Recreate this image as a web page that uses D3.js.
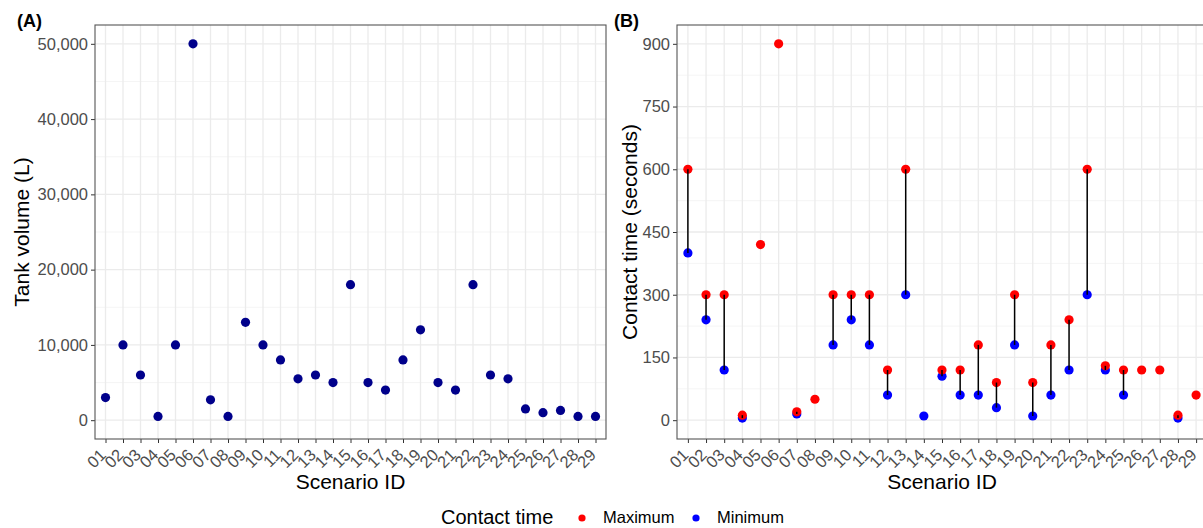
<!DOCTYPE html>
<html>
<head>
<meta charset="utf-8">
<script src="https://cdn.jsdelivr.net/npm/d3@7"></script>
<style>
  body { margin: 0; background: #fff; }
  svg text { font-family: "Liberation Sans", Arial, sans-serif; }
</style>
</head>
<body>
<svg id="chart" width="1203" height="528"></svg>
<script>
// scenario ids shared by both panels
var scenarios = ["01","02","03","04","05","06","07","08","09","10","11","12","13","14","15",
                 "16","17","18","19","20","21","22","23","24","25","26","27","28","29"];

// panel A: tank volume (L)
var tankVolume = [3000, 10000, 6000, 500, 10000, 50000, 2700, 500, 13000, 10000, 8000, 5500, 6000, 5000,
                  18000, 5000, 4000, 8000, 12000, 5000, 4000, 18000, 6000, 5500, 1500, 1000, 1300, 500, 500];

// panel B: contact time (seconds), null = not reported
var contactMax = [600, 300, 300, 12, 420, 900, 20, 50, 300, 300, 300, 120, 600, null,
                  120, 120, 180, 90, 300, 90, 180, 240, 600, 130, 120, 120, 120, 12, 60];
var contactMin = [400, 240, 120, 5, null, null, 15, null, 180, 240, 180, 60, 300, 10,
                  105, 60, 60, 30, 180, 10, 60, 120, 300, 120, 60, null, null, 5, null];

var ticksA = [0, 10000, 20000, 30000, 40000, 50000];
var ticksB = [0, 150, 300, 450, 600, 750, 900];

var svg = d3.select("#chart");

var plotTop = 25, plotBottom = 439;

function drawPanel(opt) {
    var x = d3.scalePoint().domain(scenarios).range([opt.left, opt.right]).padding(0.6);
    var y = d3.scaleLinear().domain(opt.yDomain).range([plotBottom, plotTop]);
    var g = svg.append("g");

    // minor horizontal grid (midpoints between major ticks)
    var step = opt.ticks[1] - opt.ticks[0];
    var minor = [opt.ticks[0] - step / 2];
    opt.ticks.forEach(function (t) { minor.push(t + step / 2); });
    g.selectAll("line.minor").data(minor.filter(function (d) {
        return d > opt.yDomain[0] && d < opt.yDomain[1];
    })).enter().append("line")
        .attr("x1", opt.left).attr("x2", opt.right)
        .attr("y1", function (d) { return y(d); }).attr("y2", function (d) { return y(d); })
        .attr("stroke", "#f2f2f2").attr("stroke-width", 0.8);

    g.selectAll("line.hmajor").data(opt.ticks).enter().append("line")
        .attr("x1", opt.left).attr("x2", opt.right)
        .attr("y1", function (d) { return y(d); }).attr("y2", function (d) { return y(d); })
        .attr("stroke", "#ebebeb").attr("stroke-width", 1.3);

    g.selectAll("line.vmajor").data(scenarios).enter().append("line")
        .attr("x1", function (d) { return x(d); }).attr("x2", function (d) { return x(d); })
        .attr("y1", plotTop).attr("y2", plotBottom)
        .attr("stroke", "#ebebeb").attr("stroke-width", 1.3);

    // axes
    var yAxis = d3.axisLeft(y).tickValues(opt.ticks).tickSize(4).tickPadding(3).tickFormat(opt.fmt);
    var ya = g.append("g").attr("transform", "translate(" + opt.left + ",0)").call(yAxis);
    ya.select(".domain").remove();
    ya.selectAll("line").attr("stroke", "#333");
    ya.selectAll("text").attr("fill", "#4d4d4d").style("font-size", "16.5px");

    var xAxis = d3.axisBottom(x).tickSize(4).tickPadding(0);
    var xa = g.append("g").attr("transform", "translate(0," + plotBottom + ")").call(xAxis);
    xa.select(".domain").remove();
    xa.selectAll("line").attr("stroke", "#333");
    xa.selectAll("text")
        .attr("fill", "#4d4d4d").style("font-size", "16.5px")
        .attr("text-anchor", "end")
        .attr("x", 0).attr("y", 0).attr("dy", "0.35em")
        .attr("transform", "translate(-3,13) rotate(-45)");

    opt.marks(g, x, y);

    // panel border
    g.append("rect")
        .attr("x", opt.left).attr("y", plotTop)
        .attr("width", opt.right - opt.left).attr("height", plotBottom - plotTop)
        .attr("fill", "none").attr("stroke", "#555").attr("stroke-width", 1.1);

    // titles
    g.append("text")
        .attr("x", (opt.left + opt.right) / 2).attr("y", 489)
        .attr("text-anchor", "middle").style("font-size", "21px")
        .text("Scenario ID");
    g.append("text")
        .attr("transform", "translate(" + opt.yTitleX + "," + ((plotTop + plotBottom) / 2) + ") rotate(-90)")
        .attr("text-anchor", "middle").style("font-size", "21px")
        .text(opt.yTitle);
    g.append("text")
        .attr("x", opt.tagX).attr("y", 27)
        .style("font-size", "18px").style("font-weight", "bold")
        .text(opt.tag);
}

drawPanel({
    left: 95, right: 606, yDomain: [-2500, 52500], ticks: ticksA,
    fmt: d3.format(","), yTitle: "Tank volume (L)", yTitleX: 29, tag: "(A)", tagX: 17,
    marks: function (g, x, y) {
        g.selectAll("circle.vol").data(scenarios).enter().append("circle")
            .attr("cx", function (d) { return x(d); })
            .attr("cy", function (d, i) { return y(tankVolume[i]); })
            .attr("r", 4.6).attr("fill", "#00008b");
    }
});

drawPanel({
    left: 677, right: 1207, yDomain: [-45, 945], ticks: ticksB,
    fmt: d3.format("d"), yTitle: "Contact time (seconds)", yTitleX: 637, tag: "(B)", tagX: 614,
    marks: function (g, x, y) {
        var rows = scenarios.map(function (s, i) {
            return { id: s, max: contactMax[i], min: contactMin[i] };
        });
        g.selectAll("circle.min").data(rows.filter(function (d) { return d.min != null; }))
            .enter().append("circle")
            .attr("cx", function (d) { return x(d.id); })
            .attr("cy", function (d) { return y(d.min); })
            .attr("r", 4.6).attr("fill", "#0000ff");
        g.selectAll("circle.max").data(rows.filter(function (d) { return d.max != null; }))
            .enter().append("circle")
            .attr("cx", function (d) { return x(d.id); })
            .attr("cy", function (d) { return y(d.max); })
            .attr("r", 4.6).attr("fill", "#ff0000");
        g.selectAll("line.seg").data(rows.filter(function (d) { return d.max != null && d.min != null; }))
            .enter().append("line")
            .attr("x1", function (d) { return x(d.id); }).attr("x2", function (d) { return x(d.id); })
            .attr("y1", function (d) { return y(d.min); }).attr("y2", function (d) { return y(d.max); })
            .attr("stroke", "#000").attr("stroke-width", 1.5);
    }
});

// legend
var legend = svg.append("g");
legend.append("text").attr("x", 441).attr("y", 524).style("font-size", "20px").text("Contact time");
var legendItems = [
    { label: "Maximum", color: "#ff0000", x: 582 },
    { label: "Minimum", color: "#0000ff", x: 696 }
];
legendItems.forEach(function (d) {
    legend.append("circle").attr("cx", d.x).attr("cy", 518).attr("r", 3.6).attr("fill", d.color);
    legend.append("text").attr("x", d.x + 21).attr("y", 523).style("font-size", "16.5px").text(d.label);
});
</script>
</body>
</html>
